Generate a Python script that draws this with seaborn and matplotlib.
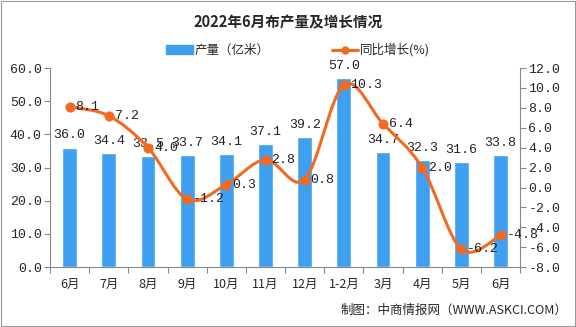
import matplotlib
matplotlib.use("Agg")
import matplotlib.pyplot as plt
import seaborn as sns
import numpy as np
import pandas as pd
from matplotlib.path import Path
from matplotlib.patches import PathPatch, Rectangle

categories = ["6月", "7月", "8月", "9月", "10月", "11月", "12月", "1-2月", "3月", "4月", "5月", "6月"]
output = [36.0, 34.4, 33.5, 33.7, 34.1, 37.1, 39.2, 57.0, 34.7, 32.3, 31.6, 33.8]
growth = [8.1, 7.2, 4.0, -1.2, 0.3, 2.8, 0.8, 10.3, 6.4, 2.0, -6.2, -4.8]
left_ticks = [0, 10, 20, 30, 40, 50, 60]
right_ticks = [-8, -6, -4, -2, 0, 2, 4, 6, 8, 10, 12]

sns.set_theme(style="white")
plt.rcParams['font.family'] = ['Noto Sans CJK SC', 'DejaVu Sans']
mono = ['Liberation Mono', 'DejaVu Sans Mono']

bar_color = "#3f9ff0"
line_color = "#f26a22"

fig = plt.figure(figsize=(5.76, 3.27), dpi=100)
ax = fig.add_axes([0.087, 0.183, 0.816, 0.609])
df = pd.DataFrame({"cat": [f"{i}" for i in range(len(categories))], "output": output, "growth": growth})
sns.barplot(data=df, x="cat", y="output", color=bar_color, saturation=1, width=0.38, ax=ax)
ax.set_xlim(-0.5, len(categories) - 0.5)
ax.set_ylim(0, 60)
ax.set_yticks(left_ticks)
ax.set_yticklabels([f"{v:.1f}" for v in left_ticks], fontfamily=mono, fontsize=9.5)
ax.set_xticks(range(len(categories)))
ax.set_xticklabels(categories, fontsize=9)
ax.tick_params(axis='x', length=0, pad=8)
ax.set_xticks(np.arange(-0.5, len(categories)), minor=True)
ax.tick_params(axis='x', which='minor', length=4, color='#888888', width=0.8, direction='out', bottom=True)
ax.tick_params(axis='y', length=4, color='#888888', width=0.8, direction='out', left=True, pad=2)
ax.set_xlabel("")
ax.set_ylabel("")
for s in ["top", "right"]:
    ax.spines[s].set_visible(False)
for s in ["left", "bottom"]:
    ax.spines[s].set_color("#888888")
    ax.spines[s].set_linewidth(0.8)

for i, v in enumerate(output):
    ax.text(i, v + 1.9, f"{v:.1f}", ha='center', va='bottom', fontsize=9.5, fontfamily=mono, color='#222222')

ax2 = ax.twinx()
ax2.set_ylim(-8, 12)
ax2.set_yticks(right_ticks)
ax2.set_yticklabels([f"{v:.1f}" for v in right_ticks], fontfamily=mono, fontsize=9.5)
ax2.tick_params(axis='y', length=4, color='#888888', width=0.8, direction='out', right=True, pad=2)
for s in ["top", "left", "bottom"]:
    ax2.spines[s].set_visible(False)
ax2.spines["right"].set_color("#888888")
ax2.spines["right"].set_linewidth(0.8)

# smooth curve through the points (Catmull-Rom -> cubic Bezier)
xs = np.arange(len(growth), dtype=float)
ys = np.array(growth, dtype=float)
verts = [(xs[0], ys[0])]
codes = [Path.MOVETO]
n = len(xs)
for i in range(n - 1):
    p0 = (xs[max(i - 1, 0)], ys[max(i - 1, 0)])
    p1 = (xs[i], ys[i])
    p2 = (xs[i + 1], ys[i + 1])
    p3 = (xs[min(i + 2, n - 1)], ys[min(i + 2, n - 1)])
    t = 1 / 6
    c1 = (p1[0] + (p2[0] - p0[0]) * t, p1[1] + (p2[1] - p0[1]) * t)
    c2 = (p2[0] - (p3[0] - p1[0]) * t, p2[1] - (p3[1] - p1[1]) * t)
    verts += [c1, c2, p2]
    codes += [Path.CURVE4] * 3
ax2.add_patch(PathPatch(Path(verts, codes), facecolor='none', edgecolor=line_color, lw=2.2, zorder=3))
sns.scatterplot(data=df.assign(xi=xs), x="xi", y="growth", color=line_color, s=45, edgecolor=line_color, ax=ax2, zorder=4, legend=False)
ax2.set_xlabel("")
ax2.set_ylabel("")
for i, v in enumerate(growth):
    ax2.text(i + 0.15, v, f"{v:.1f}", ha='left', va='center', fontsize=9.5, fontfamily=mono, color='#222222', zorder=5)

# title and legend
fig.text(0.5, 0.933, "2022年6月布产量及增长情况", ha='center', va='center', fontsize=10.5, fontweight='bold')
fig.patches.append(Rectangle((0.288, 0.835), 0.047, 0.026, transform=fig.transFigure, color=bar_color))
fig.text(0.338, 0.847, "产量（亿米）", ha='left', va='center', fontsize=9)
fig.lines.append(plt.Line2D([0.576, 0.622], [0.847, 0.847], transform=fig.transFigure, color=line_color, lw=2.2))
fig.lines.append(plt.Line2D([0.599], [0.847], transform=fig.transFigure, color=line_color, marker='o', ms=5))
fig.text(0.625, 0.847, "同比增长(%)", ha='left', va='center', fontsize=9)

fig.text(0.985, 0.052, "制图：中商情报网（WWW.ASKCI.COM）", ha='right', va='center', fontsize=9)
fig.patches.append(Rectangle((0.001, 0.002), 0.997, 0.995, transform=fig.transFigure, fill=False, edgecolor='#999999', lw=0.8))

fig.savefig("out.png", dpi=100)
